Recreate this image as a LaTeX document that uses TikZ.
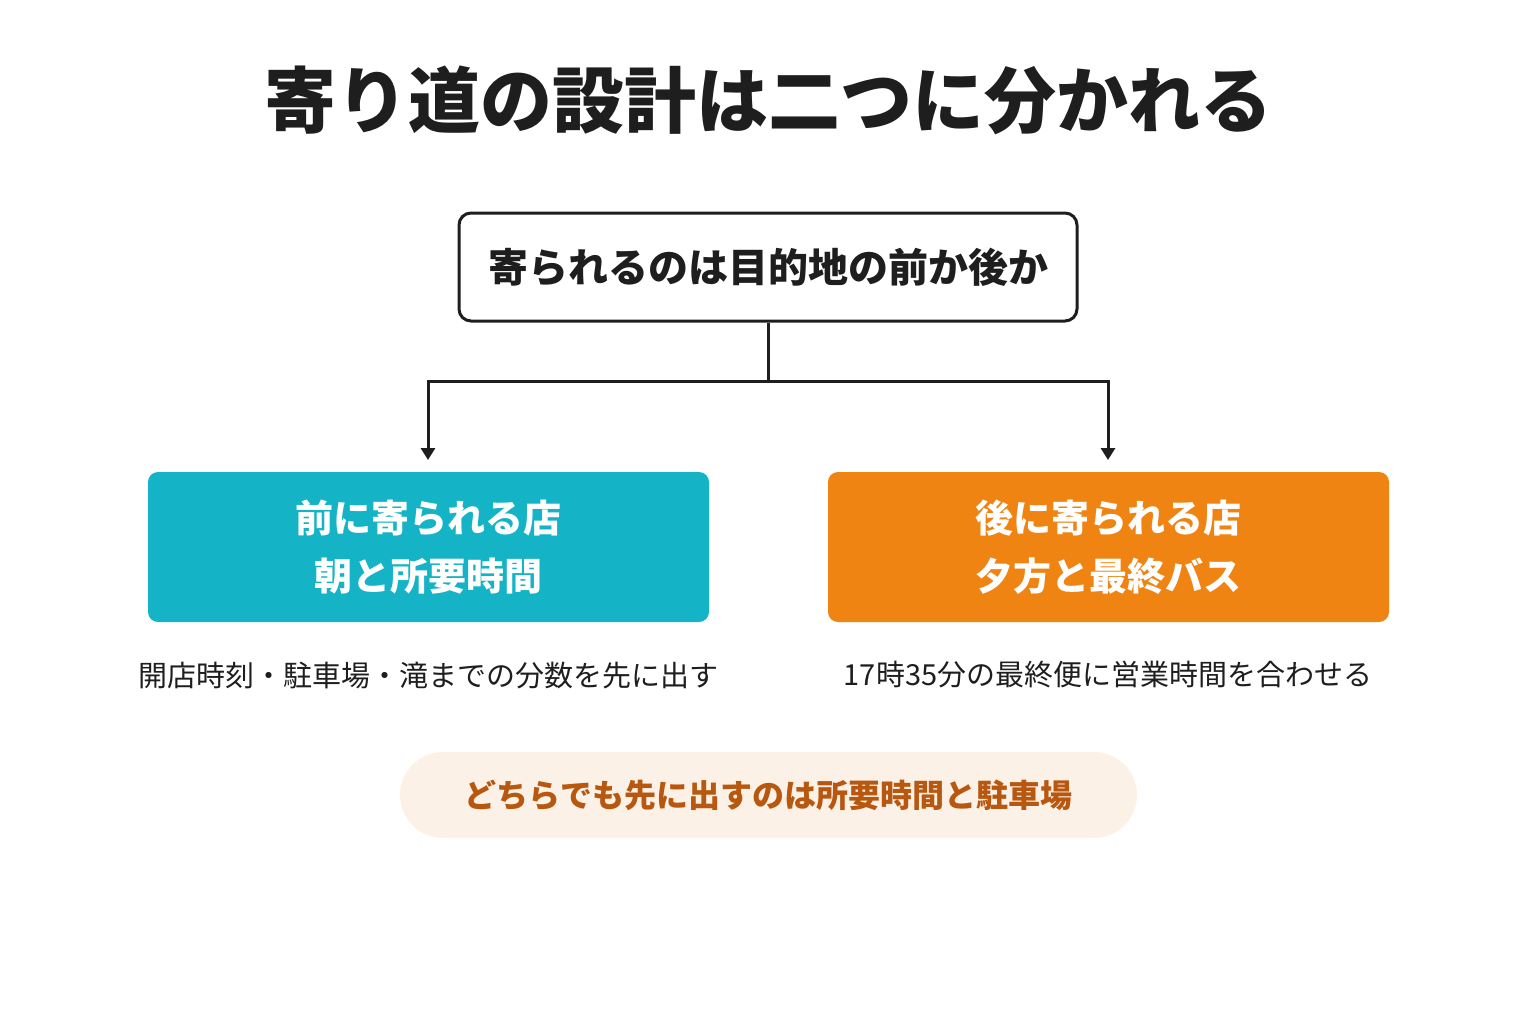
\documentclass[tikz,border=0pt]{standalone}
\usepackage{fontspec}
\setmainfont{Noto Sans CJK JP}
\usetikzlibrary{arrows.meta}
\definecolor{ink}{HTML}{1E1E1E}
\definecolor{teal}{HTML}{14B3C6}
\definecolor{orng}{HTML}{EF8413}
\definecolor{pill}{HTML}{FCF1E6}
\definecolor{brn}{HTML}{B8570F}
\begin{document}
\begin{tikzpicture}[x=0.5pt,y=-0.5pt,
  box/.style={rounded corners=5pt,minimum width=280.5pt,minimum height=75pt,text=white,font=\bfseries\fontsize{19}{29}\selectfont,align=center,inner sep=0},
  captxt/.style={text=ink,font=\fontsize{14.5}{18}\selectfont},
  arr/.style={draw=ink,line width=1.5pt,-{Triangle[width=7pt,length=6pt]}}]
\useasboundingbox (0,0) rectangle (1536,1024);
\node[text=ink,font=\bfseries\fontsize{36}{40}\selectfont] (title) at (768,100) {寄り道の設計は二つに分かれる};
\node[draw=ink,line width=1.5pt,rounded corners=6pt,fill=white,minimum width=309pt,minimum height=54pt,text=ink,font=\bfseries\fontsize{20}{24}\selectfont] (top) at (768,267) {寄られるのは目的地の前か後か};
\node[box,fill=teal] (L) at (428.5,547) {前に寄られる店\\朝と所要時間};
\node[box,fill=orng] (R) at (1108.5,547) {後に寄られる店\\夕方と最終バス};
\coordinate (j) at (768,381);
\coordinate (lt) at (428,460);
\coordinate (rt) at (1108,460);
\draw[draw=ink,line width=1.5pt] (top.south) -- (j);
\draw[arr] (j) -| (lt);
\draw[arr] (j) -| (rt);
\node[captxt] (lc) at (428,675) {開店時刻・駐車場・滝までの分数を先に出す};
\node[captxt] (rc) at (1108,675) {17時35分の最終便に営業時間を合わせる};
\node[fill=pill,rounded corners=21.5pt,minimum width=368.5pt,minimum height=43pt,text=brn,font=\bfseries\fontsize{16}{20}\selectfont] (note) at (768.5,795) {どちらでも先に出すのは所要時間と駐車場};
\end{tikzpicture}
\end{document}
